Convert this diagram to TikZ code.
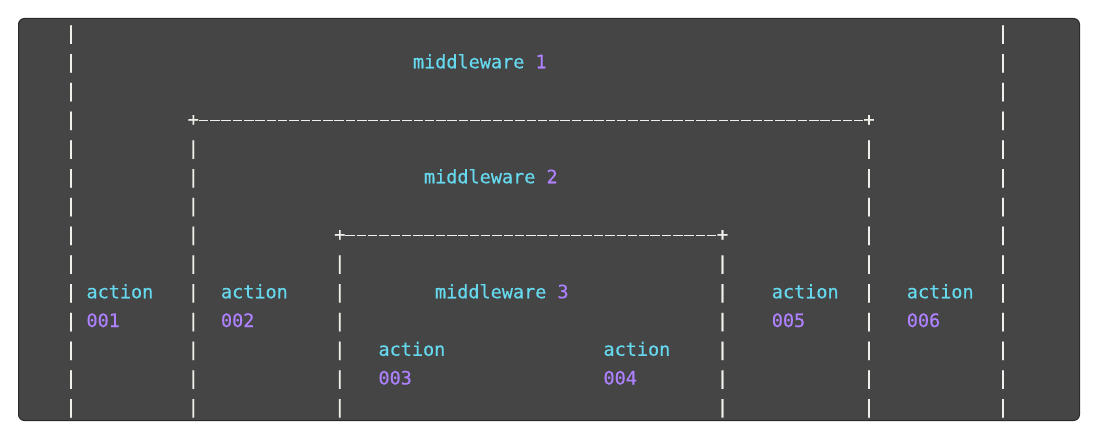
\documentclass[tikz,border=0pt]{standalone}
\usepackage{fontspec}
\newfontfamily\codefont[FakeBold=0.4]{DejaVu Sans Mono}
\definecolor{bgc}{HTML}{454545}
\definecolor{edgec}{HTML}{2A2A2A}
\definecolor{cyanc}{HTML}{66D9EF}
\definecolor{purplec}{HTML}{AE81FF}
\definecolor{fgc}{HTML}{F0F0EA}
\begin{document}
\begin{tikzpicture}[x=1pt,y=-1pt,
  codetxt/.style={inner sep=0pt, outer sep=0pt, font=\codefont\fontsize{18.5}{18.5}\selectfont},
  bar/.style={codetxt, anchor=base, text=fgc},
  kw/.style={codetxt, anchor=base west, text=cyanc},
  num/.style={codetxt, anchor=base west, text=purplec},
  dashline/.style={draw=fgc, line width=1.8pt, dash pattern=on 9.5pt off 1.8pt}
]
\useasboundingbox (0,0) rectangle (1108,444);
\draw[fill=bgc, draw=edgec, line width=1pt, rounded corners=6pt] (18.5,18.5) rectangle (1079.5,420.5);
% outer columns
\foreach \r in {1,...,14} {
  \pgfmathsetmacro\rowb{39.5+(\r-1)*28.75}
  \node[bar] (L\r) at (71,\rowb) {|};
  \node[bar] (R\r) at (1003,\rowb) {|};
}
% middle box
\pgfmathsetmacro\bfour{39.5+3*28.75}
\node[bar] (PA) at (193.3,\bfour) {+};
\node[bar] (PB) at (869,\bfour) {+};
\draw[dashline] (PA.east) -- (PB.west);
\foreach \r in {5,...,14} {
  \pgfmathsetmacro\rowb{39.5+(\r-1)*28.75}
  \node[bar] (ML\r) at (193.3,\rowb) {|};
  \node[bar] (MR\r) at (869,\rowb) {|};
}
% inner box
\pgfmathsetmacro\beight{39.5+7*28.75}
\node[bar] (PC) at (339.8,\beight) {+};
\node[bar] (PD) at (722.5,\beight) {+};
\draw[dashline] (PC.east) -- (PD.west);
\foreach \r in {9,...,14} {
  \pgfmathsetmacro\rowb{39.5+(\r-1)*28.75}
  \node[bar] (IL\r) at (339.8,\rowb) {|};
  \node[bar] (IR\r) at (722.5,\rowb) {|};
}
% labels
\pgfmathsetmacro\btwo{39.5+1*28.75}
\pgfmathsetmacro\bsix{39.5+5*28.75}
\pgfmathsetmacro\bten{39.5+9*28.75}
\pgfmathsetmacro\beleven{39.5+10*28.75}
\pgfmathsetmacro\btwelve{39.5+11*28.75}
\pgfmathsetmacro\bthirteen{39.5+12*28.75}
\node[kw] (mw1) at (413,\btwo) {middleware \textcolor{purplec}{1}};
\node[kw] (mw2) at (424,\bsix) {middleware \textcolor{purplec}{2}};
\node[kw] (mw3) at (435,\bten) {middleware \textcolor{purplec}{3}};
\node[kw] (a1) at (86.5,\bten) {action};
\node[num] (n1) at (86.5,\beleven) {001};
\node[kw] (a2) at (221,\bten) {action};
\node[num] (n2) at (221,\beleven) {002};
\node[kw] (a3) at (378.5,\btwelve) {action};
\node[num] (n3) at (378.5,\bthirteen) {003};
\node[kw] (a4) at (603.5,\btwelve) {action};
\node[num] (n4) at (603.5,\bthirteen) {004};
\node[kw] (a5) at (771.8,\bten) {action};
\node[num] (n5) at (771.8,\beleven) {005};
\node[kw] (a6) at (906.8,\bten) {action};
\node[num] (n6) at (906.8,\beleven) {006};
\end{tikzpicture}
\end{document}
